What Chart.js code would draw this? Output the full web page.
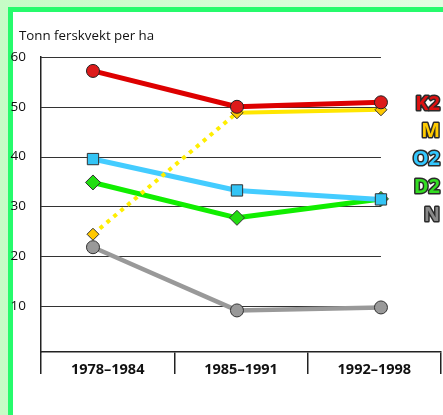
<!DOCTYPE html>
<html>
<head>
<meta charset="utf-8">
<script src="https://cdn.jsdelivr.net/npm/chart.js@4.4.1/dist/chart.umd.min.js"></script>
<style>
  html, body { margin: 0; padding: 0; background: #fff; overflow: hidden; }
  canvas { display: block; }
</style>
</head>
<body>
<canvas id="c" width="443" height="415"></canvas>
<script>
// ---- data ----
const categories = ['1978–1984', '1985–1991', '1992–1998'];
const seriesNames = ['K2', 'M', 'O2', 'D2', 'N'];
const k2 = [57.2, 50.0, 50.9];
const m  = [24.4, 48.8, 49.4];
const o2 = [39.5, 33.2, 31.4];
const d2 = [34.8, 27.7, 31.5];
const n  = [21.8, 9.1, 9.7];
const yTicks = [10, 20, 30, 40, 50, 60];
const yTitle = 'Tonn ferskvekt per ha';

const FONT = "'Open Sans', 'Noto Sans', sans-serif";
const RIGHT_GAP = 2;
const pts = arr => arr.map((v, i) => ({ x: i, y: v }));
const legendColors = ['#dd1111', '#ffcc00', '#33c8ff', '#33dd22', '#888888'];

const framePlugin = {
  id: 'frame',
  afterLayout(chart) {
    const R = chart.width - RIGHT_GAP;
    chart.chartArea.right = R;
    chart.chartArea.width = R - chart.chartArea.left;
    ['x', 'xd'].forEach(id => {
      const s = chart.scales[id];
      if (!s) return;
      s.right = R;
      s.width = R - s.left;
      s.configure();
    });
  },
  beforeDraw(chart) {
    const { ctx, width, height } = chart;
    ctx.save();
    const g = ctx.createLinearGradient(0, 0, width, 0);
    g.addColorStop(0, '#c6fcc6');
    g.addColorStop(1, '#e2ffe2');
    ctx.fillStyle = g;
    ctx.fillRect(0, 0, width, height);
    ctx.fillStyle = '#26fb6c';
    ctx.fillRect(8, 7, width - 8, height - 7);
    ctx.fillStyle = '#ffffff';
    ctx.fillRect(13, 12, width - 13, height - 12);
    ctx.restore();
  }
};

const gridPlugin = {
  id: 'partialGrid',
  beforeDatasetsDraw(chart) {
    const { ctx, chartArea, scales } = chart;
    const y = scales.y, xd = scales.xd;
    const xEnd = xd.getPixelForValue(categories.length - 1);
    ctx.save();
    ctx.strokeStyle = '#333';
    ctx.lineWidth = 1;
    yTicks.forEach(t => {
      const py = Math.round(y.getPixelForValue(t)) + 0.5;
      ctx.beginPath();
      ctx.moveTo(chartArea.left, py);
      ctx.lineTo(xEnd, py);
      ctx.stroke();
    });
    ctx.restore();
  }
};

const textPlugin = {
  id: 'texts',
  afterDraw(chart) {
    const { ctx, chartArea } = chart;
    ctx.save();
    ctx.font = "13.3px " + FONT;
    ctx.fillStyle = '#111';
    ctx.textAlign = 'left';
    ctx.textBaseline = 'middle';
    ctx.fillText(yTitle, 19, chartArea.top - 21);
    ctx.font = "bold 20px " + FONT;
    ctx.textAlign = 'right';
    ctx.lineJoin = 'round';
    seriesNames.forEach((name, i) => {
      const yy = chartArea.top + 47 + i * 27.7;
      const xx = chart.width - 3;
      ctx.strokeStyle = '#2a2a2a';
      ctx.lineWidth = 3;
      ctx.strokeText(name, xx, yy);
      ctx.fillStyle = legendColors[i];
      ctx.fillText(name, xx, yy);
    });
    ctx.restore();
  }
};

const zeroPad = s => { s.paddingLeft = 0; s.paddingRight = 0; };

new Chart(document.getElementById('c'), {
  type: 'line',
  data: {
    labels: categories,
    datasets: [
      { label: seriesNames[0], data: pts(k2), xAxisID: 'xd', borderColor: '#dd0000', borderWidth: 5,
        pointStyle: 'circle', pointRadius: 6.5, pointBackgroundColor: '#dd1a1a', pointBorderColor: '#222', pointBorderWidth: 1 },
      { label: seriesNames[1], data: pts(m), xAxisID: 'xd', borderColor: '#ffe600', borderWidth: 4,
        segment: { borderDash: c => c.p0DataIndex === 0 ? [4, 5] : undefined, borderColor: c => c.p0DataIndex === 0 ? '#ffee00' : '#ffe600' },
        pointStyle: 'rectRot', pointRadius: 6, pointBackgroundColor: '#ffc800', pointBorderColor: '#333', pointBorderWidth: 1 },
      { label: seriesNames[2], data: pts(o2), xAxisID: 'xd', borderColor: '#44ccff', borderWidth: 5,
        pointStyle: 'rect', pointRadius: 8, pointBackgroundColor: '#33c4f5', pointBorderColor: '#333', pointBorderWidth: 1 },
      { label: seriesNames[3], data: pts(d2), xAxisID: 'xd', borderColor: '#11ee00', borderWidth: 5,
        pointStyle: 'rectRot', pointRadius: 7.5, pointBackgroundColor: '#22dd11', pointBorderColor: '#333', pointBorderWidth: 1 },
      { label: seriesNames[4], data: pts(n), xAxisID: 'xd', borderColor: '#999999', borderWidth: 4.5,
        pointStyle: 'circle', pointRadius: 6.5, pointBackgroundColor: '#999999', pointBorderColor: '#333', pointBorderWidth: 1 }
    ]
  },
  options: {
    responsive: false,
    animation: false,
    devicePixelRatio: 1,
    layout: { padding: { left: 0, right: RIGHT_GAP, top: 57, bottom: 0 } },
    plugins: { legend: { display: false }, tooltip: { enabled: false }, title: { display: false } },
    elements: { line: { tension: 0, borderCapStyle: 'butt', borderJoinStyle: 'round' } },
    scales: {
      xd: {
        type: 'linear', display: false, min: -0.361, max: 2.417,
        afterFit: zeroPad
      },
      x: {
        type: 'category', position: 'bottom', offset: true,
        afterFit: s => { s.height = 63; zeroPad(s); },
        grid: { display: true, drawOnChartArea: false, offset: true, tickLength: 22, color: '#222', lineWidth: 1.5 },
        border: { display: true, color: '#222', width: 1.5 },
        ticks: { padding: -13, color: '#111', font: { family: FONT, size: 14.5, weight: 'bold' }, maxRotation: 0, autoSkip: false }
      },
      y: {
        type: 'linear', min: 0.75, max: 60,
        afterFit: s => { s.width = 41; },
        afterBuildTicks: s => { s.ticks = yTicks.map(v => ({ value: v })); },
        grid: { display: false },
        border: { display: true, color: '#222', width: 1.5 },
        ticks: { padding: 7, color: '#111', font: { family: FONT, size: 13.5 } }
      }
    }
  },
  plugins: [framePlugin, gridPlugin, textPlugin]
});
</script>
</body>
</html>
